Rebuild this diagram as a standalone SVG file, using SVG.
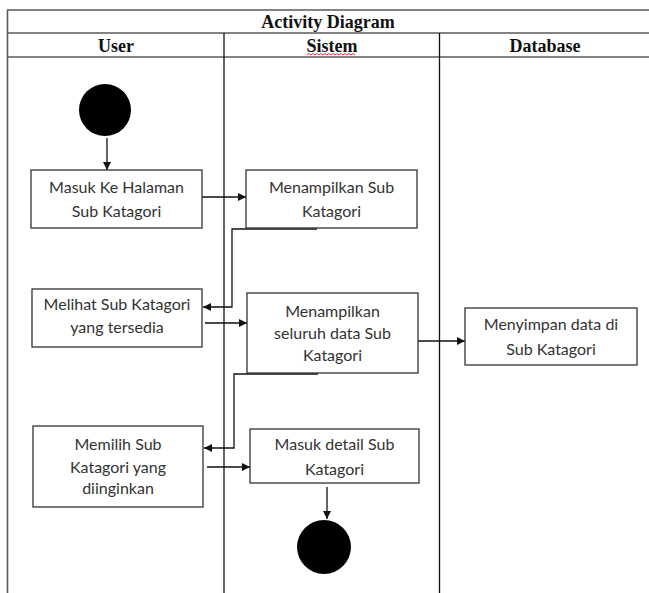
<svg xmlns="http://www.w3.org/2000/svg" width="649" height="593" viewBox="0 0 649 593">
  <style>
    .grid { stroke: #5a5a5a; stroke-width: 1.6; fill: none; }
    .lane { stroke: #111; stroke-width: 1.3; fill: none; }
    .hdr { font-family: "Liberation Serif", "Times New Roman", serif; font-weight: bold; font-size: 18px; fill: #111; text-anchor: middle; }
    .box { fill: #fff; stroke: #333; stroke-width: 1.3; }
    .lbl { font-family: Lato, "Liberation Sans", sans-serif; font-size: 16px; fill: #333; text-anchor: middle; }
    .flow { stroke: #111; stroke-width: 1.3; fill: none; }
    .dot { fill: #000; }
  </style>
  <defs>
    <marker id="arrow" viewBox="0 0 10 10" refX="10" refY="5" markerWidth="8" markerHeight="8" markerUnits="userSpaceOnUse" orient="auto">
      <path d="M0,0 L10,5 L0,10 z" fill="#111"/>
    </marker>
  </defs>

  <rect width="649" height="593" fill="#fff"/>

  <!-- table frame -->
  <g id="table">
    <line class="grid" x1="7" y1="10" x2="649" y2="10"/>
    <line class="grid" x1="7" y1="33" x2="649" y2="33"/>
    <line class="grid" x1="7" y1="57" x2="649" y2="57"/>
    <line class="grid" x1="7.5" y1="10" x2="7.5" y2="593"/>
    <line class="lane" x1="224" y1="33" x2="224" y2="593"/>
    <line class="lane" x1="439.5" y1="33" x2="439.5" y2="593"/>
    <text class="hdr" x="328" y="28">Activity Diagram</text>
    <text class="hdr" x="116" y="52">User</text>
    <text class="hdr" x="332" y="52">Sistem</text>
    <path d="M307,55 l2,-1.5 l2,1.5 l2,-1.5 l2,1.5 l2,-1.5 l2,1.5 l2,-1.5 l2,1.5 l2,-1.5 l2,1.5 l2,-1.5 l2,1.5 l2,-1.5 l2,1.5 l2,-1.5 l2,1.5 l2,-1.5 l2,1.5 l2,-1.5 l2,1.5 l2,-1.5 l2,1.5 l2,-1.5 l2,1.5" stroke="#e02020" stroke-width="0.9" fill="none"/>
    <text class="hdr" x="545" y="52">Database</text>
  </g>

  <!-- connectors -->
  <g id="connectors">
    <line class="flow" x1="107" y1="138" x2="107" y2="170" marker-end="url(#arrow)"/>
    <line class="flow" x1="202" y1="197" x2="246" y2="197" marker-end="url(#arrow)"/>
    <polyline class="flow" points="317,229 232,229 232,307 203,307" marker-end="url(#arrow)"/>
    <line class="flow" x1="205" y1="323" x2="247" y2="323" marker-end="url(#arrow)"/>
    <line class="flow" x1="418" y1="341" x2="465" y2="341" marker-end="url(#arrow)"/>
    <polyline class="flow" points="318,374 234,374 234,448 204,448" marker-end="url(#arrow)"/>
    <line class="flow" x1="207" y1="467" x2="250" y2="467" marker-end="url(#arrow)"/>
    <line class="flow" x1="327" y1="487" x2="327" y2="519" marker-end="url(#arrow)"/>
  </g>

  <g id="start">
    <circle class="dot" cx="105" cy="110" r="26"/>
  </g>

  <g id="masuk-halaman">
    <rect class="box" x="31" y="170" width="171" height="58"/>
    <text class="lbl" x="116.5" y="193">Masuk Ke Halaman</text>
    <text class="lbl" x="116.5" y="217">Sub Katagori</text>
  </g>

  <g id="tampil-sub">
    <rect class="box" x="246" y="170" width="171" height="58"/>
    <text class="lbl" x="331.5" y="193">Menampilkan Sub</text>
    <text class="lbl" x="331.5" y="217">Katagori</text>
  </g>

  <g id="lihat-sub">
    <rect class="box" x="32" y="289" width="170" height="58"/>
    <text class="lbl" x="117" y="310">Melihat Sub Katagori</text>
    <text class="lbl" x="117" y="333">yang tersedia</text>
  </g>

  <g id="tampil-seluruh">
    <rect class="box" x="247" y="293" width="171" height="80"/>
    <text class="lbl" x="332.5" y="317">Menampilkan</text>
    <text class="lbl" x="332.5" y="339">seluruh data Sub</text>
    <text class="lbl" x="332.5" y="361">Katagori</text>
  </g>

  <g id="simpan-data">
    <rect class="box" x="465" y="308" width="172" height="57"/>
    <text class="lbl" x="551" y="330">Menyimpan data di</text>
    <text class="lbl" x="551" y="355">Sub Katagori</text>
  </g>

  <g id="pilih-sub">
    <rect class="box" x="33" y="426" width="170" height="81"/>
    <text class="lbl" x="118" y="450">Memilih Sub</text>
    <text class="lbl" x="118" y="473">Katagori yang</text>
    <text class="lbl" x="118" y="494">diinginkan</text>
  </g>

  <g id="detail-sub">
    <rect class="box" x="250" y="429" width="169" height="54"/>
    <text class="lbl" x="334.5" y="450">Masuk detail Sub</text>
    <text class="lbl" x="334.5" y="475">Katagori</text>
  </g>

  <g id="end">
    <circle class="dot" cx="324" cy="547" r="27"/>
  </g>
</svg>
